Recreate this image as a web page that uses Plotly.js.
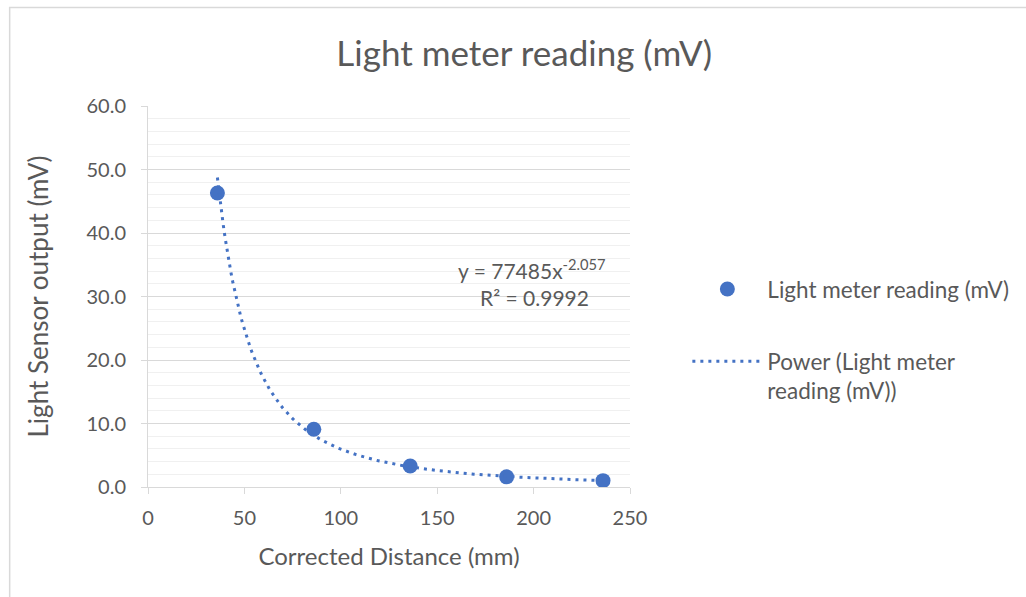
<!DOCTYPE html>
<html>
<head>
<meta charset="utf-8">
<script src="https://cdn.plot.ly/plotly-3.0.1.min.js"></script>
<style>html,body{margin:0;padding:0;background:#fff;}#chart{width:1026px;height:597px;}</style>
</head>
<body>
<div id="chart"></div>
<script>
// Data
const distance_mm = [36, 86, 136, 186, 236];
const sensor_mV = [46.3, 9.1, 3.3, 1.6, 1.0];
// Power trendline coefficients as printed on the chart: y = a * x^b
const trendA = 77485;
const trendB = -2.057;
const trendR2 = 0.9992;

const xTicks = [0, 50, 100, 150, 200, 250];

// Build the trendline curve from the printed fit
const trendX = [];
const trendY = [];
const x0 = distance_mm[0], x1 = distance_mm[distance_mm.length - 1];
for (let i = 0; i <= 200; i++) {
  const x = x0 + (x1 - x0) * i / 200;
  trendX.push(x);
  trendY.push(trendA * Math.pow(x, trendB));
}

const FONT = 'Lato, "Open Sans", sans-serif';
const GREY = '#595959';
const BLUE = '#4472c4';

const traces = [
  {
    x: distance_mm, y: sensor_mV, type: 'scatter', mode: 'markers',
    name: 'Light meter reading (mV)',
    marker: {color: BLUE, size: 15},
    legendgroup: 'a'
  },
  {
    x: trendX, y: trendY, type: 'scatter', mode: 'lines',
    name: 'Power (Light meter<br>reading (mV))',
    line: {color: BLUE, width: 3, dash: '3px,5px'},
    legendgroup: 'b'
  }
];

const layout = {
  width: 1026, height: 597,
  margin: {l: 148, r: 396, t: 106, b: 110},
  paper_bgcolor: '#fff', plot_bgcolor: '#fff',
  font: {family: FONT, color: GREY, size: 21},
  title: {text: 'Light meter reading (mV)', font: {family: FONT, size: 35, color: GREY},
          x: 0.511, xanchor: 'center', y: 0.91, yanchor: 'middle'},
  showlegend: true,
  legend: {x: 1.119, xanchor: 'left', y: 0.575, yanchor: 'top', traceorder: 'grouped',
           valign: 'top',
           tracegroupgap: 40, itemwidth: 70, font: {family: FONT, size: 22.5, color: GREY},
           bgcolor: 'rgba(0,0,0,0)'},
  xaxis: {
    range: [0, 250], tickvals: xTicks, ticktext: xTicks.map(String),
    showline: true, linecolor: '#d9d9d9', linewidth: 1,
    ticks: 'outside', ticklen: 6, tickcolor: '#d9d9d9',
    ticklabelstandoff: 7,
    showgrid: false, zeroline: false,
    tickfont: {family: FONT, size: 20, color: GREY},
    title: {text: 'Corrected Distance (mm)', font: {family: FONT, size: 24, color: GREY}, standoff: 20}
  },
  yaxis: {
    range: [0, 60], dtick: 10, tickformat: '.1f',
    showline: true, linecolor: '#d9d9d9', linewidth: 1,
    ticks: 'outside', ticklen: 6, tickcolor: '#d9d9d9',
    ticklabelstandoff: 11,
    showgrid: true, gridcolor: '#d9d9d9', gridwidth: 1, zeroline: false,
    minor: {dtick: 2, showgrid: true, gridcolor: '#f0f0f0', gridwidth: 1},
    tickfont: {family: FONT, size: 20, color: GREY},
    title: {text: 'Light Sensor output (mV)', font: {family: FONT, size: 26, color: GREY}, standoff: 30}
  },
  annotations: [
    {xref: 'x', yref: 'y', x: 199, y: 34.3, text: 'y = ' + trendA + 'x<sup>' + trendB + '</sup>',
     showarrow: false, font: {family: FONT, size: 21, color: GREY}},
    {xref: 'x', yref: 'y', x: 200.5, y: 29.8, text: 'R² = ' + trendR2,
     showarrow: false, font: {family: FONT, size: 21, color: GREY}}
  ],
  shapes: [
    {type: 'rect', xref: 'paper', yref: 'paper', x0: -0.287, x1: 2.5, y0: -1.5, y1: 1.2585,
     line: {color: '#d9d9d9', width: 1.5}, fillcolor: 'rgba(0,0,0,0)', layer: 'below'}
  ]
};

Plotly.newPlot('chart', traces, layout, {displayModeBar: false, staticPlot: true});
</script>
</body>
</html>
